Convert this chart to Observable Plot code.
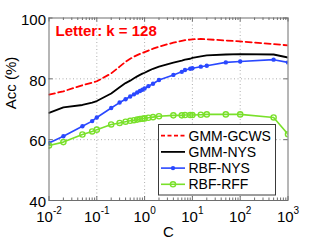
<!DOCTYPE html>
<html><head><meta charset="utf-8">
<script src="https://cdn.jsdelivr.net/npm/d3@7"></script>
<script src="https://cdn.jsdelivr.net/npm/@observablehq/plot@0.6"></script>
<style>html,body{margin:0;padding:0;background:#fff;overflow:hidden}</style>
</head><body><div id="chart"></div>
<script>
// ---- data ----
const C = [0.01, 0.02, 0.05, 0.08, 0.1, 0.2, 0.3, 0.4, 0.5, 0.6, 0.7, 0.8, 0.9, 1, 1.2, 1.5, 2, 4, 6, 7, 9, 10, 15, 20, 50, 100, 500, 1000];
const gmmGcws = [74.8, 75.9, 77.9, 78.7, 79.2, 81.8, 84.0, 85.6, 86.6, 87.3, 87.8, 88.2, 88.5, 88.8, 89.3, 89.9, 90.6, 91.9, 92.5, 92.7, 92.9, 93.0, 93.1, 93.0, 92.6, 92.3, 91.4, 91.0];
const gmmNys  = [68.8, 70.6, 71.4, 72.2, 72.7, 75.2, 77.2, 78.6, 79.4, 80.2, 80.8, 81.3, 81.7, 82.0, 82.6, 83.3, 84.0, 85.3, 86.0, 86.3, 86.6, 86.9, 87.4, 87.7, 88.0, 88.1, 88.0, 87.0];
const rbfNys  = [58.9, 61.1, 64.4, 66.1, 67.3, 70.4, 72.2, 73.3, 74.2, 74.9, 75.5, 76.0, 76.4, 76.8, 77.6, 78.4, 79.6, 81.3, 82.3, 82.9, 83.3, 83.5, 84.0, 84.3, 85.4, 85.7, 86.3, 85.4];
const rbfRff  = [58.1, 59.2, 61.7, 62.7, 63.3, 65.0, 65.5, 65.9, 66.2, 66.4, 66.6, 66.8, 66.9, 67.0, 67.2, 67.4, 67.7, 68.0, 68.0, 68.1, 68.1, 68.1, 68.2, 68.3, 68.3, 68.3, 67.3, 61.8];
const seriesNames = ["GMM-GCWS", "GMM-NYS", "RBF-NYS", "RBF-RFF"];
const xTicks = [0.01, 0.1, 1, 10, 100, 1000];
const yTicks = [40, 60, 80, 100];
const titleText = "Letter: k = 128";
const xLabel = "C";
const yLabel = "Acc (%)";

// ---- layout / style ----
const W = 319, H = 240, mL = 48.5, mR = 31.5, mT = 17.5, mB = 40;
const frameW = W - mL - mR, frameH = H - mT - mB;
const font = "'Liberation Sans', Arial, Helvetica, sans-serif";
const axisColor = "#6e6e6e";
const red = "#ff0000", black = "#000000", blue = "#2a48ff", green = "#79e02a";
const ZW = "\u200B"; // marker for x tick labels (replaced by superscript form below)
const xMinor = [];
for (let k = -2; k < 3; k++) for (let m = 2; m < 10; m++) xMinor.push(m * Math.pow(10, k));

const rows = vals => C.map((c, i) => ({c, v: vals[i]}));

const plot = Plot.plot({
  width: W, height: H,
  marginLeft: mL, marginRight: mR, marginTop: mT, marginBottom: mB,
  x: {type: "log", domain: [0.01, 1000], axis: null},
  y: {domain: [40, 100], axis: null},
  style: {fontFamily: font, fontSize: "15px", background: "white", color: "black"},
  marks: [
    Plot.ruleX(xTicks.slice(1, -1), {stroke: "#9a9a9a", strokeDasharray: "1,2.5", strokeWidth: 0.8}),
    Plot.ruleY(yTicks.slice(1, -1), {stroke: "#9a9a9a", strokeDasharray: "1,2.5", strokeWidth: 0.8}),
    Plot.tickX(xTicks, {stroke: axisColor, insetTop: frameH - 4}),
    Plot.tickX(xTicks, {stroke: axisColor, insetBottom: frameH - 4}),
    Plot.tickX(xMinor, {stroke: axisColor, insetTop: frameH - 2.5}),
    Plot.tickX(xMinor, {stroke: axisColor, insetBottom: frameH - 2.5}),
    Plot.tickY(yTicks, {stroke: axisColor, insetRight: frameW - 4}),
    Plot.tickY(yTicks, {stroke: axisColor, insetLeft: frameW - 4}),
    Plot.line(rows(gmmGcws), {x: "c", y: "v", stroke: red, strokeWidth: 1.8, strokeDasharray: "6,3.5", clip: true}),
    Plot.line(rows(gmmNys), {x: "c", y: "v", stroke: black, strokeWidth: 1.8, clip: true}),
    Plot.line(rows(rbfNys), {x: "c", y: "v", stroke: blue, strokeWidth: 1.6, clip: true}),
    Plot.dot(rows(rbfNys), {x: "c", y: "v", r: 2.2, fill: blue, clip: true}),
    Plot.line(rows(rbfRff), {x: "c", y: "v", stroke: green, strokeWidth: 1.6, clip: true}),
    Plot.dot(rows(rbfRff), {x: "c", y: "v", r: 2.6, stroke: green, strokeWidth: 1.4, fill: "none", clip: true}),
    Plot.frame({stroke: axisColor}),
    Plot.text(yTicks, {y: d => d, frameAnchor: "left", dx: -3, dy: 2, textAnchor: "end", fontSize: 15}),
    Plot.text(xTicks, {x: d => d, text: d => ZW + String(Math.round(Math.log10(d))), frameAnchor: "bottom", dy: 21.5, lineAnchor: "bottom", fontSize: 15}),
    Plot.text([xLabel], {frameAnchor: "bottom", dy: 36.5, lineAnchor: "bottom", fontSize: 15}),
    Plot.text([yLabel], {frameAnchor: "left", dx: -33.5, rotate: -90, lineAnchor: "bottom", fontSize: 15}),
    Plot.text([titleText], {frameAnchor: "top-left", dx: 6.5, dy: 7.5, textAnchor: "start", lineAnchor: "top", fill: red, fontWeight: "bold", fontSize: 15})
  ]
});

// superscript exponents on the x tick labels
d3.select(plot).selectAll("text").each(function () {
  const s = this.textContent;
  if (!s.startsWith(ZW)) return;
  const e = s.slice(1);
  const t = d3.select(this);
  t.text("");
  t.append("tspan").text("10");
  t.append("tspan").attr("dy", -8).attr("font-size", "10px").text(e);
});

// legend box
const svg = d3.select(plot);
const lg = svg.append("g").attr("font-family", font).attr("font-size", "14px").attr("text-anchor", "start");
lg.append("rect").attr("x", 158.5).attr("y", 124.5).attr("width", 117).attr("height", 70.5)
  .attr("fill", "white").attr("stroke", "#3a3a3a").attr("stroke-width", 1);
const legendStyles = [
  {stroke: red, dash: "4,2.5", marker: null},
  {stroke: black, dash: null, marker: null},
  {stroke: blue, dash: null, marker: "dot"},
  {stroke: green, dash: null, marker: "circle"}
];
seriesNames.forEach((name, i) => {
  const s = legendStyles[i];
  const y = 135.7 + i * 16.2;
  const ln = lg.append("line").attr("x1", 161).attr("x2", 185).attr("y1", y).attr("y2", y)
    .attr("stroke", s.stroke).attr("stroke-width", i < 2 ? 1.8 : 1.6);
  if (s.dash) ln.attr("stroke-dasharray", s.dash);
  if (s.marker === "dot") lg.append("circle").attr("cx", 173).attr("cy", y).attr("r", 2.2).attr("fill", s.stroke);
  if (s.marker === "circle") lg.append("circle").attr("cx", 173).attr("cy", y).attr("r", 2.6).attr("fill", "none").attr("stroke", s.stroke).attr("stroke-width", 1.4);
  lg.append("text").attr("x", 188.5).attr("y", y + 5).attr("fill", "black").text(name);
});

document.getElementById("chart").appendChild(plot);
</script>
</body></html>
